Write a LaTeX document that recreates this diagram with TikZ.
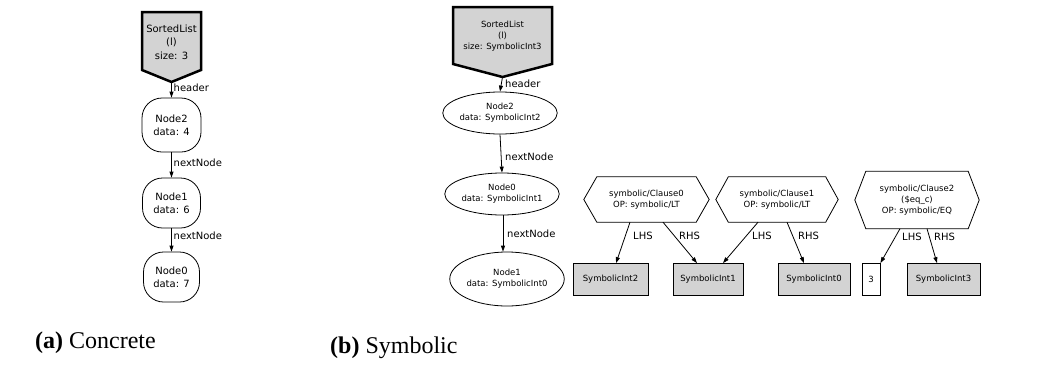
\documentclass[tikz,border=0pt]{standalone}
\usepackage{fontspec}
\setmainfont{Liberation Serif}
\newfontfamily\gvfont{DejaVu Sans}
\usetikzlibrary{arrows.meta,calc,shapes.geometric}
\definecolor{gvgray}{RGB}{211,211,211}
\tikzset{
  gvs/.style={font=\gvfont\fontsize{8.5}{11}\selectfont, align=center},
  gvA/.style={font=\gvfont\fontsize{10}{13}\selectfont, align=center},
  lbl/.style={font=\gvfont\fontsize{10}{12}\selectfont, anchor=west, inner sep=0pt},
  arr/.style={-{Triangle[length=6pt,width=4pt]}, line width=0.8pt},
  pent/.style={draw, line width=2.5pt, fill=gvgray, line join=miter},
  rnode/.style={gvA, draw, line width=0.8pt, rounded corners=20pt, inner sep=0pt},
  enode/.style={gvs, draw, ellipse, line width=0.8pt, inner sep=0pt},
  boxnode/.style={gvs, draw, line width=0.8pt, minimum height=32pt, inner sep=0pt},
  hexnode/.style={gvs, inner sep=0pt},
  hexline/.style={draw, line width=0.8pt, line join=miter},
  capt/.style={font=\fontsize{24}{28}\selectfont, anchor=base west, inner sep=0pt},
}
\begin{document}
\begin{tikzpicture}[x=1pt,y=-1pt]
\useasboundingbox (0,0) rectangle (1054,375);

% ---------- (a) Concrete ----------
\draw[pent] (142,12) -- (201,12) -- (201,70) -- (171.5,82) -- (142,70) -- cycle;
\node[gvA, font=\gvfont\fontsize{10}{13.5}\selectfont] (slA) at (171.5,42) {SortedList\\(l)\\size: 3};
\coordinate (slAtip) at (171.5,82);
\node[rnode, minimum width=59pt, minimum height=54pt] (n2a) at (171.5,125) {Node2\\data: 4};
\node[rnode, minimum width=58pt, minimum height=50pt] (n1a) at (171.5,203) {Node1\\data: 6};
\node[rnode, minimum width=56pt, minimum height=50pt] (n0a) at (171.5,277) {Node0\\data: 7};
\draw[arr] (slAtip) -- (n2a.north);
\draw[arr] (n2a.south) -- (n1a.north);
\draw[arr] (n1a.south) -- (n0a.north);
\node[lbl] (la1) at (173.5,88) {header};
\node[lbl] (la2) at (173.5,163) {nextNode};
\node[lbl] (la3) at (173.5,236) {nextNode};

% ---------- (b) Symbolic ----------
\draw[pent] (453,7) -- (552,7) -- (552,64) -- (502.5,77) -- (453,64) -- cycle;
\node[gvs] (slB) at (502.5,36) {SortedList\\(l)\\size: SymbolicInt3};
\coordinate (slBtip) at (502.5,77);
\node[enode, minimum width=96pt, minimum height=42pt] (n2b) at (500,113) {Node2\\data: SymbolicInt2};
\node[enode, minimum width=97pt, minimum height=42pt] (n0b) at (502,194) {Node0\\data: SymbolicInt1};
\node[enode, minimum width=110pt, minimum height=54pt] (n1b) at (507,279) {Node1\\data: SymbolicInt0};
\draw[arr] (slBtip) -- (n2b.north);
\draw[arr] (n2b.south) -- (n0b.north);
\draw[arr] ([xshift=1pt]n0b.south) -- ([xshift=-4pt]n1b.north);
\node[lbl] (lb1) at (505,84) {header};
\node[lbl] (lb2) at (505,157) {nextNode};
\node[lbl] (lb3) at (507,234) {nextNode};

% clauses
\node[hexnode, minimum width=99pt, minimum height=45pt] (c0) at (646.5,199.5) {symbolic/Clause0\\OP: symbolic/LT};
\draw[hexline] (c0.north west) -- (c0.north east) -- ($(c0.east)+(13,0)$) -- (c0.south east) -- (c0.south west) -- ($(c0.west)+(-13,0)$) -- cycle;
\node[hexnode, minimum width=97pt, minimum height=45pt] (c1) at (777,199.5) {symbolic/Clause1\\OP: symbolic/LT};
\draw[hexline] (c1.north west) -- (c1.north east) -- ($(c1.east)+(12.5,0)$) -- (c1.south east) -- (c1.south west) -- ($(c1.west)+(-12.5,0)$) -- cycle;
\node[hexnode, minimum width=102pt, minimum height=57pt] (c2) at (917,200) {symbolic/Clause2\\(\$eq\_c)\\OP: symbolic/EQ};
\draw[hexline] (c2.north west) -- (c2.north east) -- ($(c2.east)+(11,0)$) -- (c2.south east) -- (c2.south west) -- ($(c2.west)+(-11,0)$) -- cycle;

% value boxes
\node[boxnode, fill=gvgray, minimum width=75pt] (s2) at (610.5,279.5) {SymbolicInt2};
\node[boxnode, fill=gvgray, minimum width=70pt] (s1) at (708,279.5) {SymbolicInt1};
\node[boxnode, fill=gvgray, minimum width=72pt] (s0) at (814,279.5) {SymbolicInt0};
\node[boxnode, minimum width=18pt] (three) at (871,279.5) {3};
\node[boxnode, fill=gvgray, minimum width=73pt] (s3) at (943.5,279.5) {SymbolicInt3};

% clause edges
\draw[arr] ([xshift=-16.5pt]c0.south) -- ([xshift=5.5pt]s2.north);
\draw[arr] ([xshift=16.5pt]c0.south) -- ([xshift=-11pt]s1.north);
\draw[arr] ([xshift=-19pt]c1.south) -- ([xshift=15pt]s1.north);
\draw[arr] ([xshift=10pt]c1.south) -- ([xshift=-10pt]s0.north);
\draw[arr] ([xshift=-17pt]c2.south) -- (three.north east);
\draw[arr] ([xshift=10pt]c2.south) -- ([xshift=-6.5pt]s3.north);
\node[lbl] (l0l) at (633,236) {LHS};
\node[lbl] (l0r) at (679,236) {RHS};
\node[lbl] (l1l) at (752,236) {LHS};
\node[lbl] (l1r) at (798,236) {RHS};
\node[lbl] (l2l) at (902,237) {LHS};
\node[lbl] (l2r) at (934,237) {RHS};

% captions
\node[capt] (capa) at (35,348) {\textbf{(a)} Concrete};
\node[capt] (capb) at (330,353) {\textbf{(b)} Symbolic};
\end{tikzpicture}
\end{document}
